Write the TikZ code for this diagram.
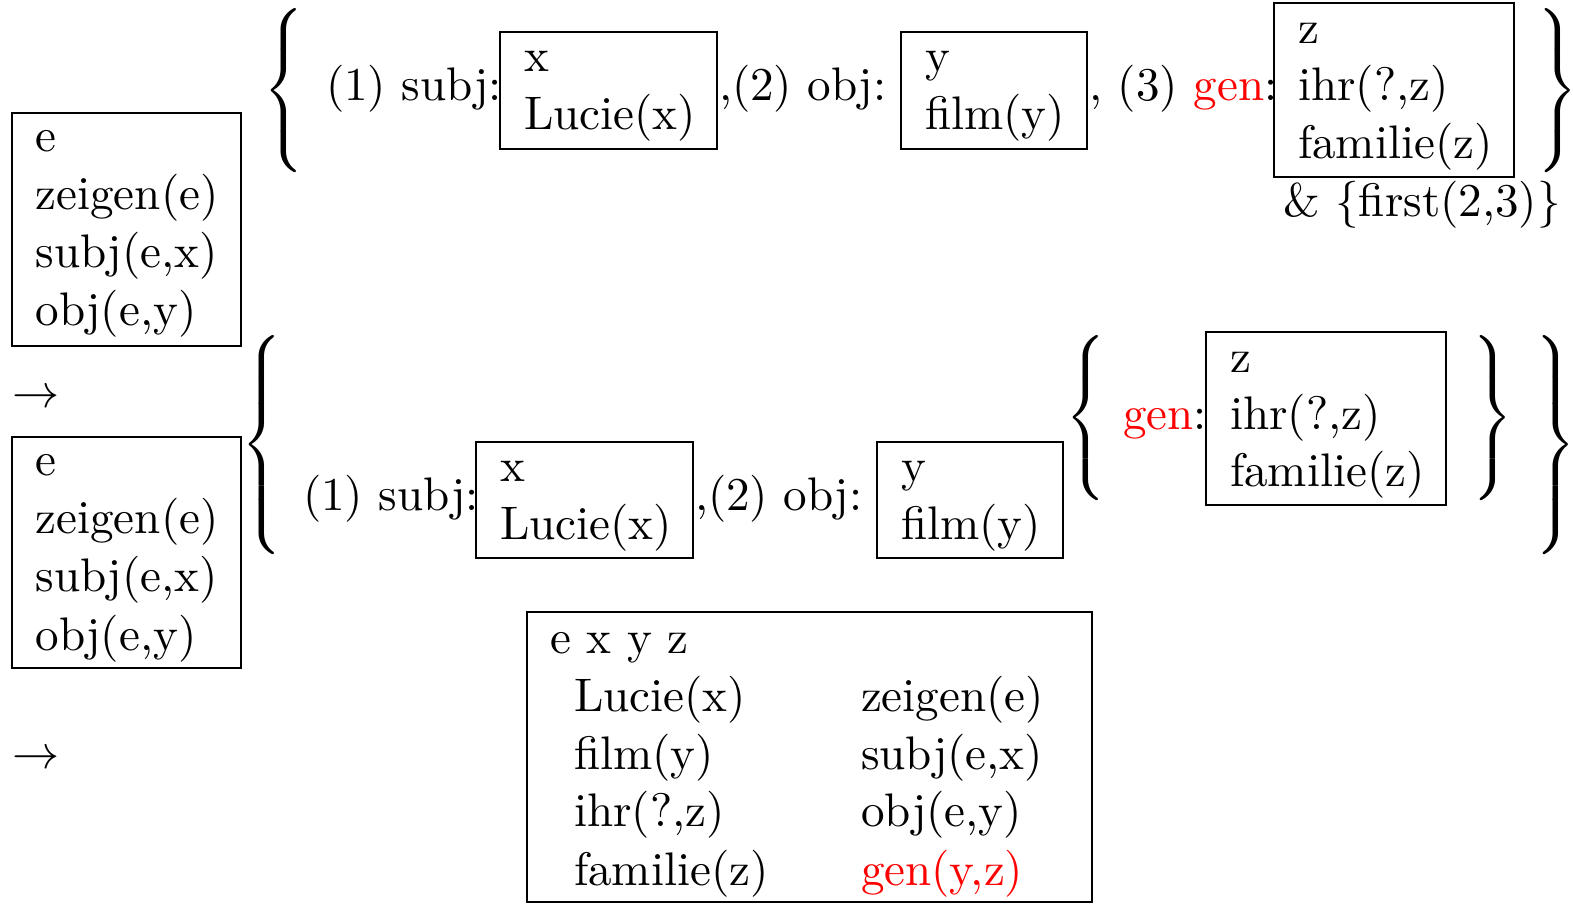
\RequirePackage{fix-cm}
\documentclass[tikz,border=0pt]{standalone}
\usepackage{xcolor}
\newcommand{\dlm}[4]{\(\nulldelimiterspace=0pt\left#1\vrule height #3 depth #4 width 0pt\right#2\)}
\begin{document}
\begin{tikzpicture}[x=0.2188pt,y=-0.2188pt,
  txt/.style={anchor=base west, inner sep=0pt, outer sep=0pt, font=\fontsize{10.3pt}{12pt}\selectfont},
  drsbox/.style={draw, line width=0.4pt},
  delim/.style={anchor=center, inner sep=0pt, outer sep=0pt, font=\fontsize{10pt}{12pt}\selectfont}]
\useasboundingbox (0,0) rectangle (1573,904);
% ---------- row 1 ----------
\draw[drsbox] (12,113) rectangle (241,346);
\node[txt] (a1) at (35.5,152) {e};
\node[txt] (a2) at (35.5,210) {zeigen(e)};
\node[txt] (a3) at (35.5,268) {subj(e,x)};
\node[txt] (a4) at (35.5,326) {obj(e,y)};
\node[delim] (tlb) at (284,90.5) {\dlm{\{}{.}{21.9pt}{16.9pt}};
\node[txt] (s1) at (326,101) {(1) subj:};
\draw[drsbox] (500,32) rectangle (717,149);
\node[txt] (x1) at (524,72) {x};
\node[txt] (x2) at (524,130) {Lucie(x)};
\node[txt] (o1) at (719,101) {,(2) obj:};
\draw[drsbox] (901,32) rectangle (1087,149);
\node[txt] (y1) at (925,72) {y};
\node[txt] (y2) at (925,130) {film(y)};
\node[txt] (g1) at (1089,101) {, (3) \textcolor{red}{gen}:};
\draw[drsbox] (1274,3) rectangle (1514,177);
\node[txt] (z1) at (1298,44) {z};
\node[txt] (z2) at (1298,101) {ihr(?,z)};
\node[txt] (z3) at (1298,159) {familie(z)};
\node[delim] (trb) at (1558,90.5) {\dlm{.}{\}}{21.9pt}{16.9pt}};
\node[txt] (f1) at (1283,217) {\& \(\{\)first(2,3)\(\}\)};
% ---------- arrow 1 ----------
\node[txt] (ar1) at (12,408) {\(\rightarrow\)};
% ---------- row 2 ----------
\draw[drsbox] (12,437) rectangle (241,668);
\node[txt] (b1) at (35.5,476) {e};
\node[txt] (b2) at (35.5,534) {zeigen(e)};
\node[txt] (b3) at (35.5,592) {subj(e,x)};
\node[txt] (b4) at (35.5,650) {obj(e,y)};
\node[delim] (olb) at (262,445) {\dlm{\{}{.}{28.5pt}{23.5pt}};
\node[txt] (s2) at (303,511) {(1) subj:};
\draw[drsbox] (476,442) rectangle (693,558);
\node[txt] (xx1) at (500,482) {x};
\node[txt] (xx2) at (500,540) {Lucie(x)};
\node[txt] (o2) at (695,511) {,(2) obj:};
\draw[drsbox] (877,442) rectangle (1063,558);
\node[txt] (yy1) at (901,482) {y};
\node[txt] (yy2) at (901,540) {film(y)};
\node[delim] (ilb) at (1086,418) {\dlm{\{}{.}{21.9pt}{16.9pt}};
\node[txt] (g2) at (1123,430) {\textcolor{red}{gen}:};
\draw[drsbox] (1206,332) rectangle (1446,505);
\node[txt] (zz1) at (1230,373) {z};
\node[txt] (zz2) at (1230,430) {ihr(?,z)};
\node[txt] (zz3) at (1230,487) {familie(z)};
\node[delim] (irb) at (1493,418) {\dlm{.}{\}}{21.9pt}{16.9pt}};
\node[delim] (orb) at (1556,445) {\dlm{.}{\}}{28.5pt}{23.5pt}};
% ---------- arrow 2 ----------
\node[txt] (ar2) at (12,768) {\(\rightarrow\)};
% ---------- result box ----------
\draw[drsbox] (527,612) rectangle (1092,902);
\node[txt] (r0) at (550,653) {e x y z};
\node[txt] (l1) at (574,711) {Lucie(x)};
\node[txt] (l2) at (574,769) {film(y)};
\node[txt] (l3) at (574,827) {ihr(?,z)};
\node[txt] (l4) at (574,885) {familie(z)};
\node[txt] (m1) at (861,711) {zeigen(e)};
\node[txt] (m2) at (861,769) {subj(e,x)};
\node[txt] (m3) at (861,827) {obj(e,y)};
\node[txt] (m4) at (861,885) {\textcolor{red}{gen(y,z)}};
\end{tikzpicture}
\end{document}
